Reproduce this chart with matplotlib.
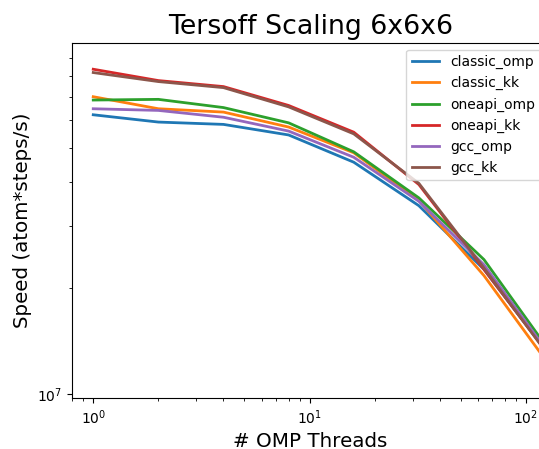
import matplotlib
matplotlib.use("Agg")
import matplotlib.pyplot as plt

threads = [1, 2, 4, 8, 16, 32, 64, 128]

classic_omp = [6.22e7, 5.93e7, 5.84e7, 5.45e7, 4.56e7, 3.43e7, 2.26e7, 1.29e7]
classic_kk = [7.00e7, 6.47e7, 6.33e7, 5.74e7, 4.85e7, 3.55e7, 2.17e7, 1.21e7]
oneapi_omp = [6.85e7, 6.88e7, 6.52e7, 5.90e7, 4.88e7, 3.61e7, 2.41e7, 1.33e7]
oneapi_kk = [8.38e7, 7.78e7, 7.48e7, 6.61e7, 5.55e7, 3.94e7, 2.26e7, 1.29e7]
gcc_omp = [6.47e7, 6.40e7, 6.12e7, 5.59e7, 4.71e7, 3.53e7, 2.33e7, 1.30e7]
gcc_kk = [8.20e7, 7.73e7, 7.43e7, 6.55e7, 5.49e7, 3.97e7, 2.28e7, 1.28e7]

series = {
    "classic_omp": classic_omp,
    "classic_kk": classic_kk,
    "oneapi_omp": oneapi_omp,
    "oneapi_kk": oneapi_kk,
    "gcc_omp": gcc_omp,
    "gcc_kk": gcc_kk,
}

fig = plt.figure(figsize=(5.39, 4.49), dpi=100)
# the original picture is cropped on the right, so the axes run past the edge
ax = fig.add_axes([0.1341, 0.1129, 0.8826, 0.792])

for name, vals in series.items():
    ax.plot(threads, vals, label=name, linewidth=2)

ax.set_xscale("log")
ax.set_yscale("log")
ax.set_xlim(0.80, 126.5)
ax.set_ylim(9.72e6, 9.97e7)

ax.set_title("Tersoff Scaling 6x6x6", fontsize=19.3)
ax.set_xlabel("# OMP Threads", fontsize=14.3)
ax.set_ylabel("Speed (atom*steps/s)", fontsize=14.3)
ax.legend(loc="upper right")

fig.savefig("out.png", dpi=100)
